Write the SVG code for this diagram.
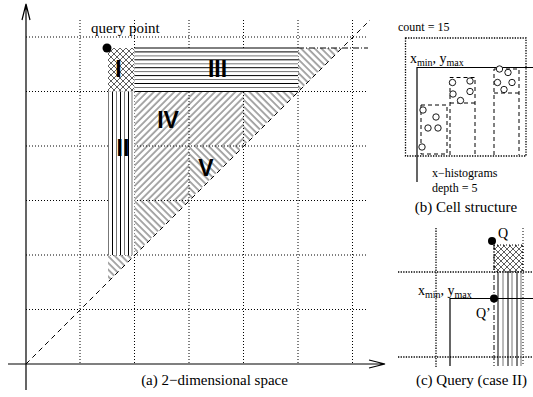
<svg xmlns="http://www.w3.org/2000/svg" width="533" height="397" viewBox="0 0 533 397">
<style>
.dot{stroke:#000;stroke-width:1;stroke-dasharray:1 2;fill:none}
.dotb{stroke:#000;stroke-width:1.3;stroke-dasharray:1.3 1.3;fill:none}
.dash{stroke:#000;stroke-width:1;stroke-dasharray:5 4;fill:none}
.bin{stroke:#000;stroke-width:1;stroke-dasharray:4 3;fill:none}
.solid{stroke:#000;stroke-width:1.2;fill:none}
.t{font-family:"Liberation Serif",serif;fill:#000}
.lab{font-family:"Liberation Sans",Arial,sans-serif;font-weight:bold;font-size:23px;fill:#000;text-anchor:middle}
.pt{fill:#fff;stroke:#000;stroke-width:0.9}
.stb{stroke:#000;stroke-width:1}
.stg{stroke:#777;stroke-width:1}
</style>
<defs>
<pattern id="fwd" patternUnits="userSpaceOnUse" width="4.8" height="10" patternTransform="rotate(45)">
<line x1="1" y1="0" x2="1" y2="10" stroke="#222" stroke-width="0.8"/>
</pattern>
<pattern id="bwd" patternUnits="userSpaceOnUse" width="4.8" height="10" patternTransform="rotate(-45)">
<line x1="1" y1="0" x2="1" y2="10" stroke="#222" stroke-width="0.8"/>
</pattern>
<pattern id="xh" patternUnits="userSpaceOnUse" width="6" height="6">
<path d="M0,0 L6,6 M6,0 L0,6" stroke="#333" stroke-width="0.8" fill="none"/>
</pattern>
</defs>

<g id="grid">
<path class="dot" d="M80,20V364 M134.5,20V364 M189,20V364 M243.5,20V364 M298,20V364 M352.5,20V364"/>
<path class="dot" d="M26,37H368 M26,91.5H368 M26,146H368 M26,200.5H368 M26,255H368 M26,309.5H368"/>
</g>

<g id="region-IV">
<polygon points="134.5,91.5 243.5,91.5 243.5,146 189,146 189,200.5 134.5,200.5" fill="url(#fwd)"/>
</g>
<g id="region-V">
<polygon points="243.5,91.5 298,91.5 243.5,146" fill="url(#bwd)"/>
<polygon points="189,146 243.5,146 189,200.5" fill="url(#bwd)"/>
<polygon points="134.5,200.5 189,200.5 134.5,255" fill="url(#bwd)"/>
<polygon points="298,48 342,48 298,92" fill="url(#bwd)"/>
<polygon points="108,255 134.5,255 108,282" fill="url(#bwd)"/>
</g>
<g id="region-I">
<rect x="108" y="48" width="26.5" height="43.5" fill="#fff"/>
<rect x="108" y="48" width="26.5" height="43.5" fill="url(#xh)"/>
</g>
<g id="region-III">
<rect x="134.5" y="48" width="163.5" height="43.5" fill="#fff"/>
<path class="stb" d="M134.5,48H298 M134.5,51.9H298 M134.5,59.8H298 M134.5,67.7H298 M134.5,75.6H298 M134.5,83.5H298 M134.5,91.5H298"/>
<path class="stg" d="M134.5,55.9H298 M134.5,63.8H298 M134.5,71.6H298 M134.5,79.5H298 M134.5,87.5H298"/>
</g>
<g id="region-II">
<rect x="108" y="91.5" width="26.5" height="163.5" fill="#fff"/>
<path class="stg" d="M108.5,91.5V255 M116.5,91.5V255 M124.5,91.5V255 M132,91.5V255"/>
<path class="stb" d="M112.5,91.5V255 M120.5,91.5V255 M128.5,91.5V255"/>
</g>
<g id="labels">
<text class="lab" x="118.5" y="77">I</text>
<text class="lab" x="123" y="156">II</text>
<text class="lab" x="217.5" y="77">III</text>
<text class="lab" x="168" y="128">IV</text>
<text class="lab" x="206" y="176">V</text>
</g>
<g id="connectors">
<line class="dash" x1="26" y1="364" x2="370" y2="20"/>
<line x1="298" y1="48" x2="368" y2="48" stroke="#000" stroke-width="1" stroke-dasharray="6 2 1 2"/>
<path class="solid" d="M26,390V4 M22,20L26,4L30,20"/>
<path class="solid" d="M8,364H385 M369,360L385,364L369,368"/>
</g>
<g id="query-point">
<circle cx="107" cy="48" r="4.5" fill="#000"/>
<text class="t" x="91" y="33" font-size="15">query point</text>
</g>
<text class="t" x="214.5" y="385" font-size="15" text-anchor="middle">(a) 2−dimensional space</text>

<g id="cell-structure">
<text class="t" x="398" y="31" font-size="12">count = 15</text>
<rect class="dotb" x="405.5" y="38" width="120.5" height="118"/>
<text class="t" x="410" y="63" font-size="14">x<tspan font-size="10" dy="3">min</tspan><tspan dy="-3">, y</tspan><tspan font-size="10" dy="3">max</tspan></text>
<path class="solid" d="M417,182V67.5H533"/>
<path class="bin" d="M421,105H447V154H421Z"/>
<path class="bin" d="M450,155V77.5H475V155 M450,103H475"/>
<path class="bin" d="M494,155V69H519V155 M494,93H519"/>
<circle class="pt" cx="423" cy="110" r="3.2"/>
<circle class="pt" cx="436" cy="117" r="3.2"/>
<circle class="pt" cx="428" cy="128" r="3.2"/>
<circle class="pt" cx="438" cy="128" r="3.2"/>
<circle class="pt" cx="422" cy="147" r="3.2"/>
<circle class="pt" cx="452.5" cy="82.5" r="3.2"/>
<circle class="pt" cx="470" cy="81" r="3.2"/>
<circle class="pt" cx="453" cy="94" r="3.2"/>
<circle class="pt" cx="470" cy="91.5" r="3.2"/>
<circle class="pt" cx="460.5" cy="100.5" r="3.2"/>
<circle class="pt" cx="499.5" cy="69" r="3.2"/>
<circle class="pt" cx="508" cy="72.5" r="3.2"/>
<circle class="pt" cx="497.5" cy="82.5" r="3.2"/>
<circle class="pt" cx="512" cy="82.5" r="3.2"/>
<circle class="pt" cx="504" cy="89.5" r="3.2"/>
<text class="t" x="432" y="177" font-size="12">x−histograms</text>
<text class="t" x="432" y="192" font-size="12">depth = 5</text>
<text class="t" x="466" y="212" font-size="15" text-anchor="middle">(b) Cell structure</text>
</g>

<g id="query-case">
<path class="dotb" d="M436,228V368 M398,272H533 M398,357H533"/>
<path class="dot" d="M523,228V366"/>
<rect x="494" y="245" width="29" height="27" fill="url(#xh)"/>
<rect class="dot" x="494" y="245" width="29" height="27"/>
<path class="stb" d="M498,272V366 M508,272V366 M517,272V366"/>
<path class="stg" d="M503,272V366 M512,272V366 M521,272V366"/>
<line x1="494" y1="245" x2="494" y2="366" stroke="#000" stroke-width="1" stroke-dasharray="5 2 1 2"/>
<path class="solid" d="M450,366V298.5H533"/>
<circle cx="492" cy="241" r="4" fill="#000"/>
<circle cx="494" cy="298.5" r="4" fill="#000"/>
<text class="t" x="498" y="238" font-size="14">Q</text>
<text class="t" x="476" y="318" font-size="14">Q’</text>
<text class="t" x="418" y="295" font-size="14">x<tspan font-size="10" dy="3">min</tspan><tspan dy="-3">, y</tspan><tspan font-size="10" dy="3">max</tspan></text>
<text class="t" x="471.5" y="385" font-size="15" text-anchor="middle">(c) Query (case II)</text>
</g>
</svg>
